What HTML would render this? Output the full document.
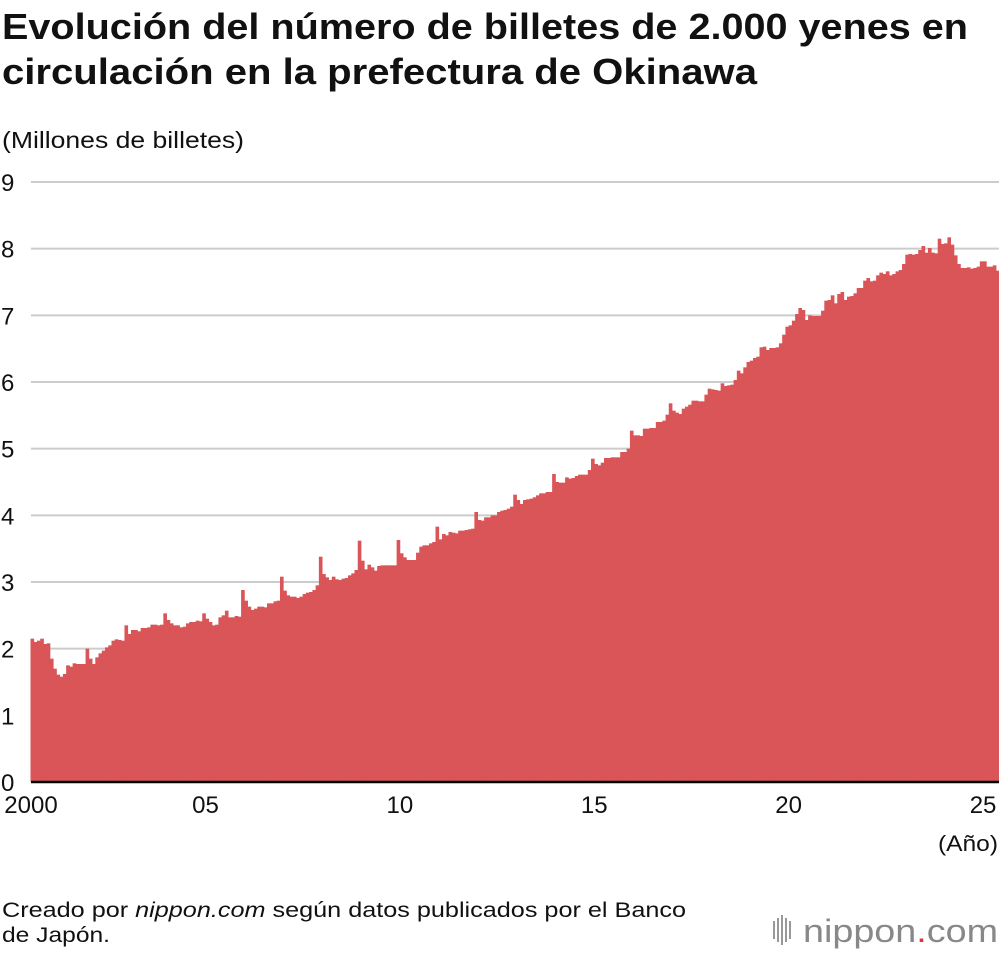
<!DOCTYPE html>
<html><head><meta charset="utf-8">
<style>
body{margin:0;background:#fff;width:1000px;height:954px;overflow:hidden;font-family:"Liberation Sans",Arial,sans-serif;}
svg{display:block}
</style></head>
<body>
<svg id="chart" width="1000" height="954" viewBox="0 0 1000 954" xmlns="http://www.w3.org/2000/svg" font-family="Liberation Sans, Arial, sans-serif">
<text x="2" y="39" font-size="36" font-weight="bold" fill="#111" textLength="966" lengthAdjust="spacingAndGlyphs">Evolución del número de billetes de 2.000 yenes en</text>
<text x="2" y="84" font-size="36" font-weight="bold" fill="#111" textLength="755" lengthAdjust="spacingAndGlyphs">circulación en la prefectura de Okinawa</text>
<text x="2" y="148" font-size="23" fill="#111" textLength="242" lengthAdjust="spacingAndGlyphs">(Millones de billetes)</text>
<g id="grid"></g>
<g id="bars"></g>
<g id="ylabels"></g>
<line x1="31" y1="782" x2="999" y2="782" stroke="#000" stroke-width="2.5"/>
<g id="xlabels"></g>
<text x="998" y="851" font-size="22" text-anchor="end" fill="#111" textLength="60" lengthAdjust="spacingAndGlyphs">(Año)</text>
<text x="2" y="917" font-size="21" fill="#111" textLength="684" lengthAdjust="spacingAndGlyphs">Creado por <tspan font-style="italic">nippon.com</tspan> según datos publicados por el Banco</text>
<text x="2" y="942" font-size="21" fill="#111" textLength="108" lengthAdjust="spacingAndGlyphs">de Japón.</text>
<g>
<g fill="#999">
<rect x="773" y="921" width="2" height="18"/><rect x="777" y="918" width="2" height="24"/><rect x="781" y="915" width="2" height="30"/><rect x="785" y="918" width="2" height="24"/><rect x="789" y="921" width="2" height="18"/>
</g>
<text x="803" y="942" font-size="32" fill="#888" textLength="195" lengthAdjust="spacingAndGlyphs">nippon<tspan fill="#d9363e">.</tspan>com</text>
</g>
</svg>
<script>
const yTicks=[0,1,2,3,4,5,6,7,8,9];
const xTickYears=[2000,2005,2010,2015,2020,2025];
const xTickLabels=["2000","05","10","15","20","25"];
const startYear=2000, startMonth=6; // July 2000 (0-based month)
const values=[
2.15,2.10,2.12,2.15,2.07,2.08,
1.85,1.70,1.61,1.58,1.62,1.75,1.73,1.78,1.77,1.77,1.77,2.0,
1.85,1.77,1.87,1.93,1.97,2.02,2.05,2.12,2.14,2.13,2.12,2.35,
2.22,2.28,2.28,2.26,2.31,2.31,2.32,2.36,2.36,2.35,2.36,2.53,
2.43,2.38,2.35,2.35,2.32,2.33,2.38,2.40,2.40,2.42,2.41,2.53,
2.45,2.40,2.35,2.36,2.47,2.50,2.57,2.47,2.47,2.49,2.48,2.88,
2.72,2.63,2.58,2.60,2.63,2.63,2.62,2.68,2.68,2.71,2.72,3.08,
2.87,2.80,2.78,2.78,2.76,2.78,2.82,2.84,2.85,2.88,2.95,3.38,
3.12,3.07,3.03,3.08,3.04,3.03,3.05,3.06,3.10,3.13,3.18,3.62,
3.32,3.19,3.26,3.22,3.17,3.24,3.25,3.25,3.25,3.25,3.25,3.63,
3.43,3.37,3.33,3.33,3.33,3.44,3.53,3.55,3.55,3.58,3.60,3.83,
3.64,3.72,3.70,3.75,3.74,3.73,3.77,3.77,3.78,3.79,3.80,4.05,
3.93,3.92,3.97,3.97,4.00,4.00,4.05,4.07,4.08,4.10,4.13,4.31,
4.23,4.17,4.23,4.24,4.25,4.27,4.30,4.33,4.33,4.35,4.35,4.62,
4.50,4.49,4.49,4.57,4.55,4.56,4.59,4.61,4.61,4.61,4.68,4.85,
4.77,4.75,4.79,4.86,4.86,4.87,4.87,4.87,4.95,4.95,5.00,5.27,
5.20,5.20,5.19,5.30,5.30,5.31,5.31,5.40,5.40,5.42,5.51,5.68,
5.57,5.54,5.52,5.60,5.63,5.66,5.72,5.72,5.71,5.71,5.81,5.90,
5.89,5.88,5.87,5.98,5.94,5.95,5.96,6.03,6.17,6.13,6.22,6.30,
6.32,6.36,6.38,6.52,6.53,6.48,6.51,6.51,6.52,6.58,6.71,6.83,
6.85,6.92,7.02,7.11,7.08,6.93,7.00,6.99,6.99,6.99,7.07,7.22,
7.23,7.30,7.18,7.32,7.35,7.23,7.28,7.29,7.33,7.41,7.41,7.52,
7.56,7.51,7.52,7.60,7.64,7.62,7.66,7.60,7.62,7.66,7.68,7.77,
7.91,7.92,7.91,7.92,7.98,8.04,7.94,8.01,7.94,7.93,8.15,8.07,
8.08,8.17,8.06,7.90,7.77,7.71,7.71,7.72,7.70,7.71,7.73,7.81,
7.81,7.73,7.73,7.75,7.67
];
const NS="http://www.w3.org/2000/svg";
const x0=31,x1=999,y0=782,yTop=182,yMax=9;
const pxPerMonth=3.24;
function yScale(v){return y0-(v/yMax)*(y0-yTop);}
function xMonth(idx){return 30.5+idx*pxPerMonth;}
function xYear(yr){return xMonth((yr-startYear)*12-startMonth);}
const grid=document.getElementById('grid'),yl=document.getElementById('ylabels');
yTicks.forEach(t=>{
  if(t>0){const l=document.createElementNS(NS,'line');
  
  
  l.setAttribute('x1',x0);l.setAttribute('x2',x1);l.setAttribute('y1',yScale(t));l.setAttribute('y2',yScale(t));
  l.setAttribute('stroke','#cccccc');l.setAttribute('stroke-width','2');grid.appendChild(l);}
  const tx=document.createElementNS(NS,'text');
  
  
  tx.setAttribute('x',1);tx.setAttribute('y',yScale(t)+9);tx.setAttribute('font-size','24');tx.setAttribute('fill','#111');
  tx.textContent=t;yl.appendChild(tx);
});
const bars=document.getElementById('bars');
values.forEach((v,i)=>{
  const r=document.createElementNS(NS,'rect');
  
  
  const x=xMonth(i);
  r.setAttribute('x',x);r.setAttribute('width',Math.min(pxPerMonth+0.4,x1-x));
  r.setAttribute('y',yScale(v));r.setAttribute('height',y0-yScale(v));
  r.setAttribute('fill','#d95557');bars.appendChild(r);
});
const xl=document.getElementById('xlabels');
xTickYears.forEach((yr,k)=>{
  const tx=document.createElementNS(NS,'text');
  
  
  let x=xYear(yr);if(k===0)x=31;
  tx.setAttribute('x',x);tx.setAttribute('y',813);tx.setAttribute('font-size','24');
  tx.setAttribute('text-anchor','middle');tx.setAttribute('fill','#111');
  tx.textContent=xTickLabels[k];xl.appendChild(tx);
});
</script>
</body></html>
